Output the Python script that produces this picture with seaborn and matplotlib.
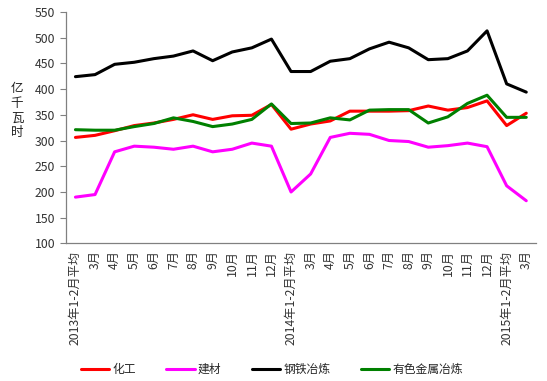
import numpy as np
import pandas as pd
import seaborn as sns
import matplotlib
matplotlib.use("Agg")
import matplotlib.pyplot as plt
from matplotlib.ticker import FixedLocator

categories = ["2013年1-2月平均", "3月", "4月", "5月", "6月", "7月", "8月", "9月", "10月", "11月", "12月",
              "2014年1-2月平均", "3月", "4月", "5月", "6月", "7月", "8月", "9月", "10月", "11月", "12月",
              "2015年1-2月平均", "3月"]

chem = [306, 310, 319, 329, 334, 341, 350, 341, 348, 349, 370,
        322, 332, 338, 357, 357, 357, 358, 367, 359, 364, 377,
        329, 353]
build = [190, 195, 278, 289, 287, 283, 289, 278, 283, 295, 289,
         200, 235, 306, 314, 312, 300, 298, 287, 290, 295, 288,
         212, 183]
steel = [424, 428, 448, 452, 459, 464, 474, 455, 472, 480, 497,
         434, 434, 454, 459, 478, 491, 480, 457, 459, 474, 513,
         410, 394]
nonfer = [321, 320, 320, 327, 333, 344, 337, 327, 332, 341, 371,
          333, 334, 344, 340, 359, 360, 360, 334, 346, 372, 388,
          345, 345]

series_names = ["化工", "建材", "钢铁冶炼", "有色金属冶炼"]
colors = ["#FF0000", "#FF00FF", "#000000", "#008000"]
ylabel_text = "亿千瓦时"

rows = []
for name, vals in zip(series_names, [chem, build, steel, nonfer]):
    for i, v in enumerate(vals):
        rows.append({"idx": i, "value": v, "series": name})
df = pd.DataFrame(rows)

sns.set_style("white")
plt.rcParams['font.family'] = ['Noto Sans CJK SC', 'DejaVu Sans']

fig = plt.figure(figsize=(5.47, 3.81), dpi=100)
ax = fig.add_axes([0.12, 0.361, 0.86, 0.608])

sns.lineplot(data=df, x="idx", y="value", hue="series", hue_order=series_names,
             palette=colors, linewidth=2.2, ax=ax, legend=False)

ax.set_xlim(-0.5, len(categories) - 0.5)
ax.set_ylim(100, 550)
ax.set_yticks(np.arange(100, 551, 50))
ax.set_xticks(np.arange(len(categories)))
ax.set_xticklabels(categories, rotation=90, fontsize=8.8, color="#333333")
ax.xaxis.set_minor_locator(FixedLocator(np.arange(-0.5, len(categories), 1)))
ax.tick_params(axis="x", which="major", length=0, pad=5)
ax.tick_params(axis="x", which="minor", length=4, direction="inout", color="#808080", width=0.8)
ax.tick_params(axis="y", which="major", length=4, direction="out", color="#808080",
               width=0.8, labelsize=8.8, labelcolor="#333333", left=True)
ax.set_xlabel("")
ax.set_ylabel("")
for s in ["top", "right"]:
    ax.spines[s].set_visible(False)
for s in ["left", "bottom"]:
    ax.spines[s].set_color("#808080")
    ax.spines[s].set_linewidth(0.9)

# vertical stacked y-axis unit label
y0 = 0.768
for k, ch in enumerate(ylabel_text):
    fig.text(0.031, y0 - k * 0.039, ch, fontsize=9, ha="center", va="center", color="#222222")

handles = [plt.Line2D([0], [0], color=c, linewidth=2.2) for c in colors]
fig.legend(handles, series_names, loc="center", bbox_to_anchor=(0.497, 0.03), ncol=4,
           frameon=False, fontsize=8.5, handlelength=2.4, handletextpad=0.25, columnspacing=2.6)

fig.savefig("out.png", dpi=100)
